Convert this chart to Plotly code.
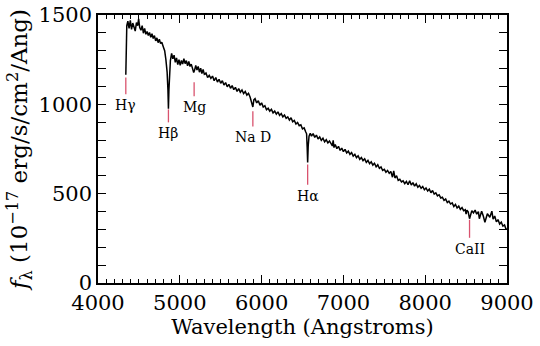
import plotly.graph_objects as go

# Observed spectrum: wavelength (Angstrom) and flux (1e-17 erg/s/cm^2/Ang)
wavelength = [
    4340, 4352, 4365, 4380, 4395, 4410, 4425, 4440, 4455, 4470, 4485, 4497,
    4510, 4525, 4540, 4555, 4570, 4585, 4600, 4615, 4630, 4645, 4660, 4675,
    4690, 4705, 4720, 4735, 4750, 4765, 4780, 4800, 4815, 4830, 4845, 4855,
    4861, 4867, 4875, 4885, 4900, 4915, 4930, 4945, 4960, 4975, 4990, 5005,
    5020, 5035, 5050, 5065, 5080, 5095, 5110, 5125, 5140, 5155, 5170, 5180,
    5195, 5210, 5225, 5240, 5255, 5270, 5285, 5300, 5320, 5340, 5360, 5380,
    5400, 5420, 5440, 5460, 5480, 5500, 5520, 5540, 5560, 5580, 5600, 5620,
    5640, 5660, 5680, 5700, 5720, 5740, 5760, 5780, 5800, 5820, 5840, 5860,
    5880, 5893, 5905, 5920, 5940, 5960, 5980, 6000, 6020, 6040, 6060, 6080,
    6100, 6120, 6140, 6160, 6180, 6200, 6220, 6240, 6260, 6280, 6300, 6320,
    6340, 6360, 6380, 6400, 6420, 6440, 6460, 6480, 6500, 6520, 6540, 6550,
    6557, 6563, 6570, 6580, 6595, 6610, 6630, 6650, 6670, 6690, 6710, 6730,
    6750, 6770, 6790, 6810, 6830, 6850, 6865, 6875, 6885, 6900, 6920, 6940,
    6960, 6980, 7000, 7020, 7040, 7060, 7080, 7100, 7120, 7140, 7160, 7180,
    7200, 7220, 7240, 7260, 7280, 7300, 7320, 7340, 7360, 7380, 7400, 7420,
    7440, 7460, 7480, 7500, 7520, 7540, 7560, 7580, 7600, 7615, 7630, 7650,
    7670, 7690, 7710, 7730, 7750, 7770, 7790, 7810, 7830, 7850, 7870, 7890,
    7910, 7930, 7950, 7970, 7990, 8010, 8030, 8050, 8070, 8090, 8110, 8130,
    8150, 8170, 8190, 8210, 8230, 8250, 8270, 8290, 8310, 8330, 8350, 8370,
    8390, 8410, 8430, 8450, 8470, 8490, 8500, 8510, 8525, 8542, 8555, 8570,
    8590, 8610, 8630, 8650, 8662, 8675, 8690, 8710, 8730, 8760, 8790, 8815,
    8830, 8850, 8870, 8890, 8910, 8930, 8950, 8970, 8985, 9000,
]
flux = [
    1165, 1440, 1465, 1425, 1470, 1420, 1455, 1428, 1410, 1458, 1440, 1478,
    1430, 1415, 1440, 1398, 1425, 1392, 1408, 1385, 1402, 1375, 1395, 1368,
    1385, 1355, 1372, 1345, 1365, 1340, 1348, 1320, 1300, 1250, 1180, 1080,
    975, 1080, 1210, 1245, 1285, 1255, 1275, 1235, 1260, 1222, 1250, 1218,
    1245, 1225, 1255, 1228, 1245, 1215, 1240, 1212, 1225, 1195, 1178, 1190,
    1218, 1192, 1212, 1180, 1202, 1172, 1195, 1168, 1175, 1150, 1162, 1145,
    1158, 1132, 1150, 1125, 1140, 1118, 1132, 1108, 1122, 1098, 1112, 1090,
    1105, 1082, 1095, 1072, 1088, 1068, 1080, 1060, 1072, 1052, 1062, 1040,
    1010, 985, 1025, 1032, 1008, 1020, 995, 1008, 985, 992, 970, 978,
    962, 972, 952, 962, 945, 958, 938, 948, 930, 940, 922, 930,
    912, 925, 902, 910, 890, 898, 880, 885, 862, 868, 845, 835,
    760, 675, 770, 822, 838, 822, 836, 815, 828, 806, 818, 798,
    810, 790, 802, 784, 795, 776, 768, 798, 758, 775, 752, 765,
    742, 755, 735, 748, 728, 738, 720, 730, 710, 720, 702, 712,
    692, 702, 685, 695, 675, 686, 668, 678, 660, 670, 650, 662,
    642, 650, 630, 636, 620, 630, 614, 624, 592, 628, 588, 600,
    574, 580, 566, 572, 556, 568, 550, 572, 548, 562, 542, 555,
    536, 546, 530, 540, 522, 532, 515, 525, 505, 518, 498, 505,
    488, 494, 476, 480, 463, 470, 450, 458, 442, 448, 428, 440,
    420, 430, 412, 422, 405, 410, 385, 408, 398, 360, 382, 405,
    392, 408, 385, 400, 360, 388, 402, 375, 340, 388, 368, 402,
    358, 375, 342, 355, 330, 340, 318, 325, 305, 300,
]

# Absorption features: name, rest wavelength, marker top/bottom
line_names = ["H\u03b3", "H\u03b2", "Mg", "Na D", "H\u03b1", "CaII"]
line_waves = [4340, 4861, 5175, 5893, 6563, 8542]
mark_top = [1150, 972, 1123, 961, 663, 354]
mark_bottom = [1056, 899, 1045, 876, 550, 253]

x_ticks = [4000, 5000, 6000, 7000, 8000, 9000]
y_ticks = [0, 500, 1000, 1500]

SERIF = "DejaVu Serif"
MARK_RED = "#d9536e"

fig = go.Figure()
fig.add_trace(go.Scatter(
    x=wavelength, y=flux, mode="lines",
    line=dict(color="black", width=1.5),
    showlegend=False, hoverinfo="skip",
))

for name, w, top, bot in zip(line_names, line_waves, mark_top, mark_bottom):
    fig.add_shape(type="line", xref="x", yref="y", x0=w, x1=w, y0=bot, y1=top,
                  line=dict(color=MARK_RED, width=1.3))
    fig.add_annotation(x=w, y=bot, xref="x", yref="y", text=name,
                       showarrow=False, yanchor="top", yshift=-1,
                       font=dict(family=SERIF, size=14, color="black"))

axis_common = dict(
    showgrid=False, zeroline=False, showline=True, linecolor="black",
    linewidth=1.6, mirror="ticks", ticks="inside", tickcolor="black",
    tickwidth=1, automargin=False,
    tickfont=dict(family=SERIF, size=21, color="black"),
)

fig.update_xaxes(
    range=[4000, 9000], tickvals=x_ticks, ticklen=8,
    minor=dict(dtick=100, ticklen=4, ticks="inside", tickcolor="black",
               tickwidth=1, showgrid=False),
    title=dict(text="Wavelength (Angstroms)", standoff=0,
               font=dict(family=SERIF, size=21, color="black")),
    **axis_common,
)
fig.update_yaxes(
    range=[0, 1500], tickvals=y_ticks, ticklen=8,
    minor=dict(dtick=100, ticklen=8, ticks="inside", tickcolor="black",
               tickwidth=1, showgrid=False),
    title=dict(text="<i>f</i><sub>\u03bb</sub> (10<sup>\u221217</sup> erg/s/cm<sup>2</sup>/Ang)",
               standoff=4, font=dict(family=SERIF, size=23, color="black")),
    **axis_common,
)

fig.update_layout(
    width=540, height=346,
    margin=dict(l=98, r=33, t=15, b=63),
    paper_bgcolor="white", plot_bgcolor="white",
    font=dict(family=SERIF),
)

fig.write_html("out.html")
